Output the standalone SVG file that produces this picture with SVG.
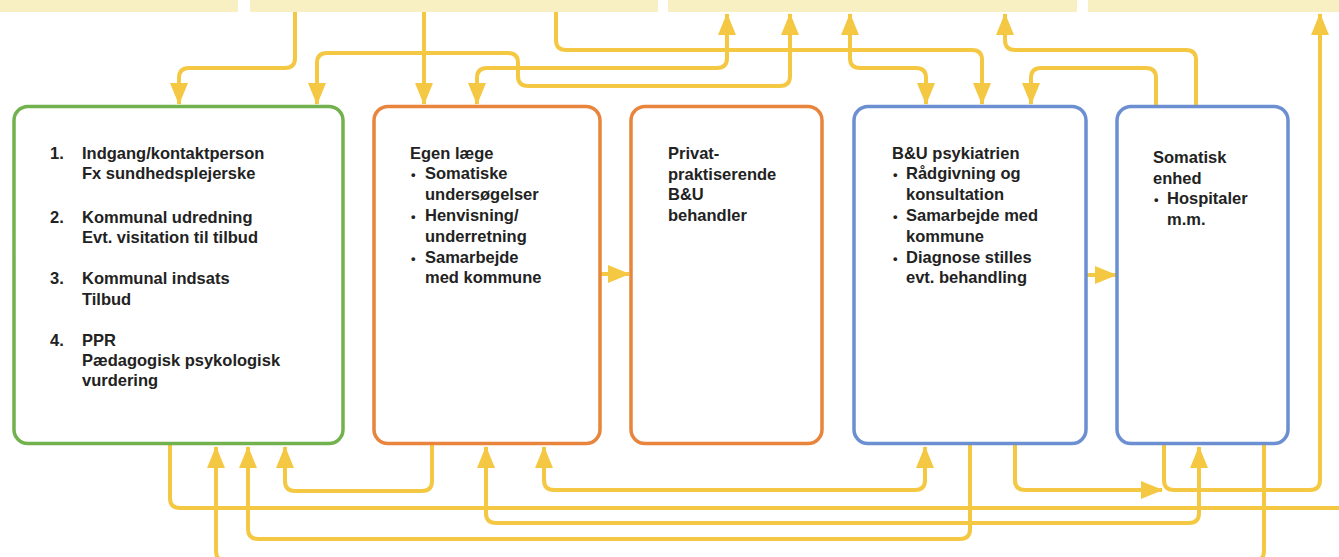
<svg xmlns="http://www.w3.org/2000/svg" width="1339" height="557" viewBox="0 0 1339 557">
  <style>
    .bar { fill: #f8efc3; }
    .box { fill: #ffffff; stroke-width: 3.5; }
    .green { stroke: #72b24e; }
    .orange { stroke: #e8843c; }
    .blue { stroke: #6b8fd1; }
    .lbl { font-family: "Liberation Sans", Arial, sans-serif; font-size: 16.5px; font-weight: bold; fill: #222222; }
    .bul { font-size: 13px; }
    .con { fill: none; stroke: #f4c842; stroke-width: 4; }
    .one { marker-end: url(#head); }
    .two { marker-start: url(#head); marker-end: url(#head); }
    .back { marker-start: url(#head); }
  </style>
  <defs>
    <marker id="head" viewBox="0 0 22 18" markerWidth="22" markerHeight="18" refX="21" refY="9" markerUnits="userSpaceOnUse" orient="auto-start-reverse">
      <path d="M0,0 L22,9 L0,18 Z" fill="#f4c842"/>
    </marker>
  </defs>

  <rect width="1339" height="557" fill="#ffffff"/>

  <!-- bands along the top edge -->
  <g id="bands">
    <rect class="bar" x="0" y="0" width="238" height="12"/>
    <rect class="bar" x="250" y="0" width="408" height="12"/>
    <rect class="bar" x="668" y="0" width="409" height="12"/>
    <rect class="bar" x="1088" y="0" width="251" height="12"/>
  </g>

  <!-- connectors -->
  <g id="connectors">
    <path class="con one" d="M295,12 V58 Q295,68 285,68 H189 Q179,68 179,78 V104"/>
    <path class="con two" d="M790,14 V76 Q790,86 780,86 H528 Q518,86 518,76 V63 Q518,53 508,53 H327 Q317,53 317,63 V104"/>
    <path class="con one" d="M424,12 V104"/>
    <path class="con one" d="M556,12 V40 Q556,50 566,50 H972 Q982,50 982,60 V104"/>
    <path class="con two" d="M850,14 V58 Q850,68 860,68 H916 Q926,68 926,78 V104"/>
    <path class="con two" d="M727,14 V58 Q727,68 717,68 H487 Q477,68 477,78 V104"/>
    <path class="con back" d="M1005,14 V40 Q1005,50 1015,50 H1186 Q1196,50 1196,60 V106"/>
    <path class="con one" d="M1156,106 V78 Q1156,68 1146,68 H1041 Q1031,68 1031,78 V104"/>
    <path class="con one" d="M1164,444 V480 Q1164,490 1174,490 H1310 Q1320,490 1320,480 V14"/>
    <path class="con one" d="M1015,444 V480 Q1015,490 1025,490 H1162"/>
    <path class="con" d="M170,444 V498 Q170,508 180,508 H1339"/>
    <path class="con one" d="M1264,444 V551 Q1264,561 1254,561 H226 Q216,561 216,551 V447"/>
    <path class="con one" d="M970,444 V529 Q970,539 960,539 H258 Q248,539 248,529 V447"/>
    <path class="con one" d="M432,444 V481 Q432,491 422,491 H295 Q285,491 285,481 V447"/>
    <path class="con two" d="M486,447 V513 Q486,523 496,523 H1189 Q1199,523 1199,513 V447"/>
    <path class="con two" d="M544,447 V480 Q544,490 554,490 H915 Q925,490 925,480 V447"/>
    <path class="con one" d="M600,274 H629"/>
    <path class="con one" d="M1086,275 H1116"/>
  </g>

  <g id="kommune">
    <rect class="box green" x="14" y="106.5" width="329" height="337" rx="14"/>
    <text class="lbl">
      <tspan x="50" y="159">1.</tspan><tspan x="82" y="159">Indgang/kontaktperson</tspan>
      <tspan x="82" y="179">Fx sundhedsplejerske</tspan>
      <tspan x="50" y="223">2.</tspan><tspan x="82" y="223">Kommunal udredning</tspan>
      <tspan x="82" y="243">Evt. visitation til tilbud</tspan>
      <tspan x="50" y="284">3.</tspan><tspan x="82" y="284">Kommunal indsats</tspan>
      <tspan x="82" y="305">Tilbud</tspan>
      <tspan x="50" y="346">4.</tspan><tspan x="82" y="346">PPR</tspan>
      <tspan x="82" y="366">Pædagogisk psykologisk</tspan>
      <tspan x="82" y="386">vurdering</tspan>
    </text>
  </g>

  <g id="egen-laege">
    <rect class="box orange" x="374" y="106.5" width="226" height="337" rx="14"/>
    <text class="lbl">
      <tspan x="410" y="159">Egen læge</tspan>
      <tspan class="bul" x="411" y="179">•</tspan><tspan x="425" y="179">Somatiske</tspan>
      <tspan x="425" y="200">undersøgelser</tspan>
      <tspan class="bul" x="411" y="221">•</tspan><tspan x="425" y="221">Henvisning/</tspan>
      <tspan x="425" y="242">underretning</tspan>
      <tspan class="bul" x="411" y="263">•</tspan><tspan x="425" y="263">Samarbejde</tspan>
      <tspan x="425" y="283">med kommune</tspan>
    </text>
  </g>

  <g id="privat">
    <rect class="box orange" x="631" y="106.5" width="191" height="337" rx="14"/>
    <text class="lbl">
      <tspan x="668" y="159">Privat-</tspan>
      <tspan x="668" y="180">praktiserende</tspan>
      <tspan x="668" y="200">B&amp;U</tspan>
      <tspan x="668" y="221">behandler</tspan>
    </text>
  </g>

  <g id="psykiatri">
    <rect class="box blue" x="854" y="106.5" width="232" height="337" rx="14"/>
    <text class="lbl">
      <tspan x="892" y="159">B&amp;U psykiatrien</tspan>
      <tspan class="bul" x="893" y="179">•</tspan><tspan x="906" y="179">Rådgivning og</tspan>
      <tspan x="906" y="200">konsultation</tspan>
      <tspan class="bul" x="893" y="221">•</tspan><tspan x="906" y="221">Samarbejde med</tspan>
      <tspan x="906" y="242">kommune</tspan>
      <tspan class="bul" x="893" y="263">•</tspan><tspan x="906" y="263">Diagnose stilles</tspan>
      <tspan x="906" y="283">evt. behandling</tspan>
    </text>
  </g>

  <g id="somatisk">
    <rect class="box blue" x="1117" y="106.5" width="171" height="337" rx="14"/>
    <text class="lbl">
      <tspan x="1153" y="163">Somatisk</tspan>
      <tspan x="1153" y="184">enhed</tspan>
      <tspan class="bul" x="1154" y="204">•</tspan><tspan x="1167" y="204">Hospitaler</tspan>
      <tspan x="1167" y="225">m.m.</tspan>
    </text>
  </g>
</svg>
